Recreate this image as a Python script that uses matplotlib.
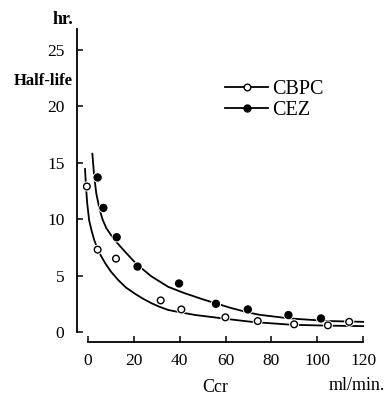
import matplotlib
matplotlib.use("Agg")
import matplotlib.pyplot as plt
from matplotlib.lines import Line2D
import matplotlib.patheffects as pe

# ---- data ----
cbpc_x = [-0.5, 4.2, 12.2, 31.7, 40.7, 59.9, 74.0, 89.9, 104.6, 113.9]
cbpc_y = [12.9, 7.3, 6.5, 2.8, 2.0, 1.3, 0.97, 0.68, 0.59, 0.9]

cez_x = [4.2, 6.7, 12.5, 21.6, 39.7, 55.8, 69.7, 87.4, 101.6]
cez_y = [13.7, 11.0, 8.4, 5.8, 4.3, 2.5, 2.0, 1.5, 1.2]

# fitted curves
cbpc_curve_x = [-1.3, -0.9, -0.4, 0.5, 1.6, 2.8, 4.2, 5.8, 7.5, 10.0, 13.2, 16.5,
                20.4, 24.0, 27.7, 31.0, 35.0, 40.0, 47.0, 55.0, 62.0, 70.0, 75.0,
                89.0, 105.0, 120.0]
cbpc_curve_y = [14.45, 13.0, 11.5, 9.9, 8.95, 8.1, 7.35, 6.7, 6.1, 5.35, 4.6, 3.95,
                3.4, 2.95, 2.55, 2.25, 1.95, 1.75, 1.5, 1.3, 1.12, 0.93, 0.84,
                0.64, 0.56, 0.52]

cez_curve_x = [1.9, 2.7, 3.6, 4.9, 6.3, 8.0, 10.0, 12.5, 16.0, 21.0, 27.5, 35.0,
               42.0, 50.0, 62.0, 70.0, 75.0, 88.0, 105.0, 120.0]
cez_curve_y = [15.8, 13.8, 12.3, 11.0, 10.0, 9.2, 8.6, 7.95, 7.15, 6.05, 4.95, 4.0,
               3.45, 2.9, 2.15, 1.72, 1.52, 1.2, 0.97, 0.9]

x_ticks = [0, 20, 40, 60, 80, 100, 120]
y_ticks = [0, 5, 10, 15, 20, 25]
series_labels = ["CBPC", "CEZ"]

SERIF = ["Liberation Serif", "DejaVu Serif"]

fig = plt.figure(figsize=(3.9, 3.96), dpi=100)
W, H = 390, 396
ax = fig.add_axes([77 / W, 1 - 342 / H, 291 / W, 313 / H])
ax.set_xlim(-4.8, 122.1)
ax.set_ylim(-0.887, 26.86)

lw = 1.3
ax.plot(cbpc_curve_x, cbpc_curve_y, color="black", lw=lw, zorder=2)
ax.plot(cez_curve_x, cez_curve_y, color="black", lw=lw, zorder=2)

halo = [pe.Stroke(linewidth=2.4, foreground="white"), pe.Normal()]
ax.plot(cbpc_x, cbpc_y, linestyle="none", marker="o", ms=4.8, mfc="white",
        mec="black", mew=1.0, zorder=3, path_effects=halo)
ax.plot(cez_x, cez_y, linestyle="none", marker="o", ms=5.0, mfc="black",
        mec="black", mew=1.0, zorder=3, path_effects=halo)

for s in ["top", "right"]:
    ax.spines[s].set_visible(False)
ax.spines["left"].set_bounds(0, 26.86)
ax.spines["bottom"].set_bounds(0, 120)
for s in ["left", "bottom"]:
    ax.spines[s].set_linewidth(1.3)

ax.set_xticks(x_ticks)
ax.set_yticks(y_ticks)
ax.tick_params(direction="in", length=4, width=1.1, labelsize=12.5)
ax.tick_params(axis="y", pad=9)
ax.tick_params(axis="x", pad=8)
for lab in ax.get_xticklabels() + ax.get_yticklabels():
    lab.set_fontfamily(SERIF)

fig.text(73 / W, 1 - 19 / H, "hr.", ha="right", va="center",
         fontsize=13, fontweight="bold", family=SERIF)
fig.text(73 / W, 1 - 81 / H, "Half-life", ha="right", va="center",
         fontsize=12, fontweight="bold", family=SERIF)
fig.text(215 / W, 1 - 387 / H, "Ccr", ha="center", va="center",
         fontsize=13, family=SERIF)
fig.text(385 / W, 1 - 386 / H, "ml/min.", ha="right", va="center",
         fontsize=13, family=SERIF)

handles = [
    Line2D([], [], color="black", lw=lw, marker="o", ms=4.8, mfc="white",
           mec="black", mew=1.0),
    Line2D([], [], color="black", lw=lw, marker="o", ms=5.0, mfc="black",
           mec="black", mew=1.0),
]
ax.legend(handles, series_labels, loc="center left",
          bbox_to_anchor=(225 / W, 1 - 100 / H), bbox_transform=fig.transFigure,
          frameon=False, borderpad=0, borderaxespad=0, handlelength=2.14,
          handletextpad=0.2, labelspacing=0.1, numpoints=1,
          prop={"family": SERIF, "size": 14.5})

fig.savefig("out.png", dpi=100)
